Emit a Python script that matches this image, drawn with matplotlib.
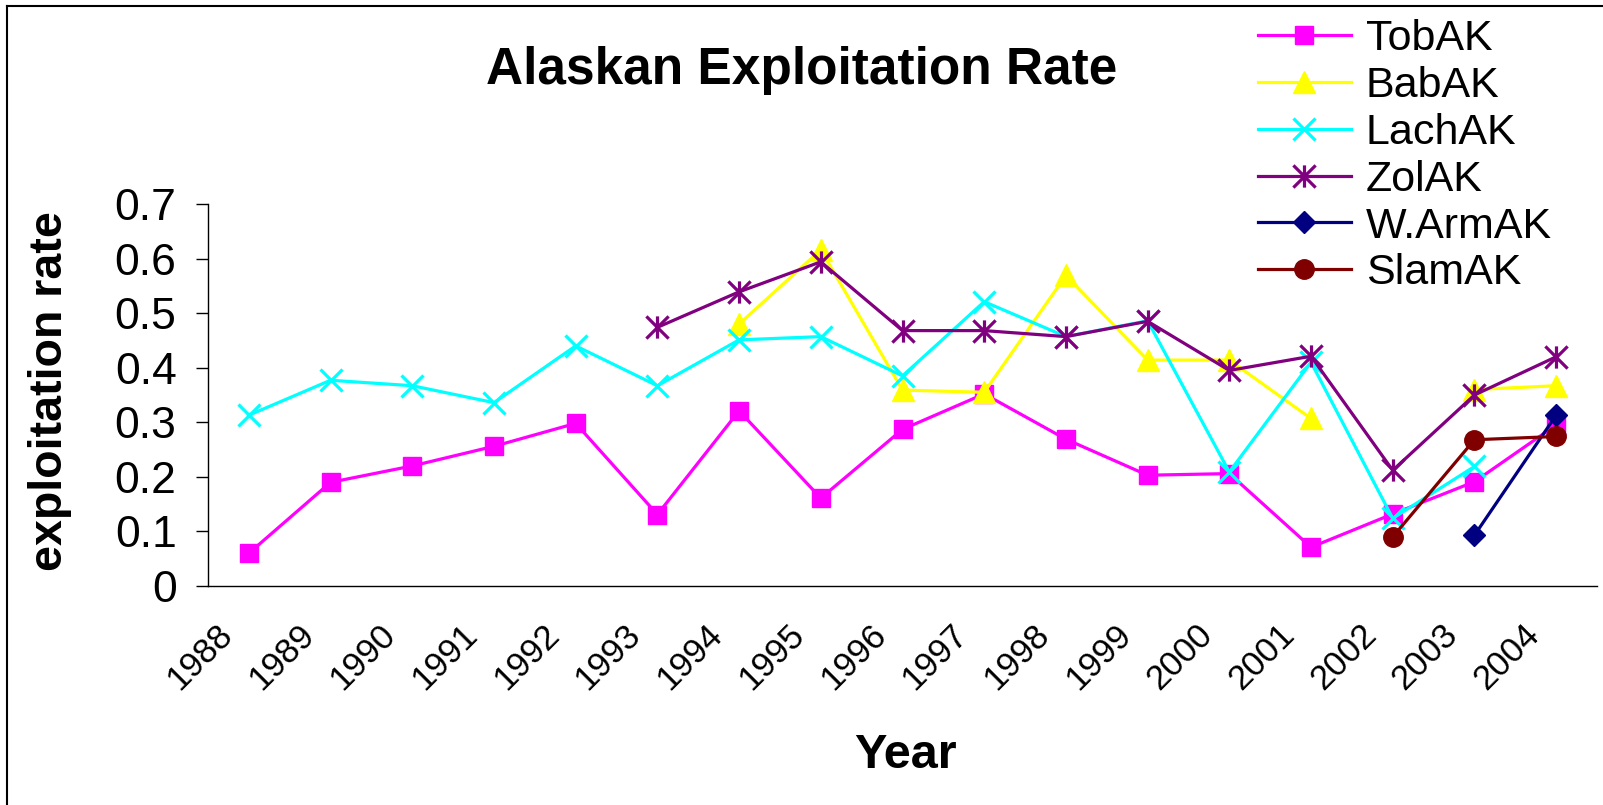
import numpy as np
import matplotlib
matplotlib.use("Agg")
import matplotlib.pyplot as plt
from matplotlib.path import Path
from matplotlib.lines import Line2D
from matplotlib.transforms import ScaledTranslation

plt.rcParams['font.family'] = ['Liberation Sans', 'DejaVu Sans']

nan = np.nan
years = ['1988', '1989', '1990', '1991', '1992', '1993', '1994', '1995', '1996',
         '1997', '1998', '1999', '2000', '2001', '2002', '2003', '2004']

tob_ak = [0.060, 0.190, 0.220, 0.256, 0.298, 0.131, 0.321, 0.161, 0.287,
          0.352, 0.269, 0.203, 0.206, 0.071, 0.132, 0.191, 0.295]
bab_ak = [nan, nan, nan, nan, nan, nan, 0.480, 0.616, 0.359,
          0.355, 0.569, 0.414, 0.414, 0.307, nan, 0.360, 0.367]
lach_ak = [0.313, 0.377, 0.367, 0.336, 0.440, 0.367, 0.451, 0.457, 0.385,
           0.521, 0.457, 0.486, 0.209, 0.410, 0.124, 0.219, nan]
zol_ak = [nan, nan, nan, nan, nan, 0.474, 0.539, 0.594, 0.468,
          0.468, 0.457, 0.485, 0.395, 0.421, 0.212, 0.350, 0.420]
warm_ak = [nan] * 15 + [0.093, 0.313]
slam_ak = [nan] * 14 + [0.090, 0.268, 0.274]

# asterisk marker: vertical bar crossed by an X
asterisk = Path([(0, -1), (0, 1), (-1, -1), (1, 1), (-1, 1), (1, -1)],
                [Path.MOVETO, Path.LINETO, Path.MOVETO, Path.LINETO,
                 Path.MOVETO, Path.LINETO])

series = [
    ('TobAK', tob_ak, '#FF00FF', dict(marker='s', ms=13, mew=1)),
    ('BabAK', bab_ak, '#FFFF00', dict(marker='^', ms=16, mew=1)),
    ('LachAK', lach_ak, '#00FFFF', dict(marker='x', ms=16, mew=2.3)),
    ('ZolAK', zol_ak, '#800080', dict(marker=asterisk, ms=16, mew=2.3)),
    ('W.ArmAK', warm_ak, '#000080', dict(marker='D', ms=11.5, mew=1)),
    ('SlamAK', slam_ak, '#800000', dict(marker='o', ms=14, mew=1)),
]

W, H = 1603, 805
fig = plt.figure(figsize=(W / 100, H / 100), dpi=100)
ax = fig.add_axes([208 / W, 1 - 586 / H, (1597 - 208) / W, (586 - 204) / H])

x = np.arange(len(years))
handles = []
for name, vals, color, mk in series:
    ln, = ax.plot(x, np.array(vals, dtype=float), color=color, lw=2.3,
                  markerfacecolor=color, markeredgecolor=color, label=name,
                  clip_on=False, **mk)
    handles.append(ln)

ax.set_xlim(-0.5, len(years) - 0.5)
ax.set_ylim(0, 0.7)
ax.set_yticks(np.arange(0, 0.71, 0.1))
ax.set_yticklabels(['0', '0.1', '0.2', '0.3', '0.4', '0.5', '0.6', '0.7'])
ax.tick_params(axis='y', labelsize=32, length=8.6, width=1.0, pad=14)
ax.set_xticks(x)
ax.set_xticklabels(years, rotation=45, ha='right', va='top')
ax.tick_params(axis='x', labelsize=25, length=0, pad=23)
shift = ScaledTranslation(-10 / 100, 0, fig.dpi_scale_trans)
for lab in ax.get_xticklabels():
    lab.set_transform(lab.get_transform() + shift)

for side in ('top', 'right'):
    ax.spines[side].set_visible(False)
for side in ('left', 'bottom'):
    ax.spines[side].set_linewidth(1.0)

fig.text(802 / W, 1 - 84 / H, 'Alaskan Exploitation Rate', fontsize=37,
         fontweight='bold', ha='center', va='baseline')
fig.text(905 / W, 1 - 768 / H, 'Year', fontsize=35, fontweight='bold',
         ha='center', va='baseline')
fig.text(50 / W, 1 - 391 / H, 'exploitation rate', fontsize=33.5,
         fontweight='bold', rotation=90, ha='center', va='center')

fig.legend(handles=handles, loc='upper left',
           bbox_to_anchor=(1258 / W, 1 - 19 / H), frameon=False,
           fontsize=31, borderpad=0, labelspacing=0.16, handlelength=2.15,
           handletextpad=0.35, borderaxespad=0)

# outer frame around the chart
fig.add_artist(Line2D([7 / W, 7 / W], [0, 1 - 6 / H], color='black', lw=1.5,
                      transform=fig.transFigure))
fig.add_artist(Line2D([7 / W, 1], [1 - 6 / H, 1 - 6 / H], color='black',
                      lw=1.5, transform=fig.transFigure))

fig.savefig('out.png', dpi=100, facecolor='white')
